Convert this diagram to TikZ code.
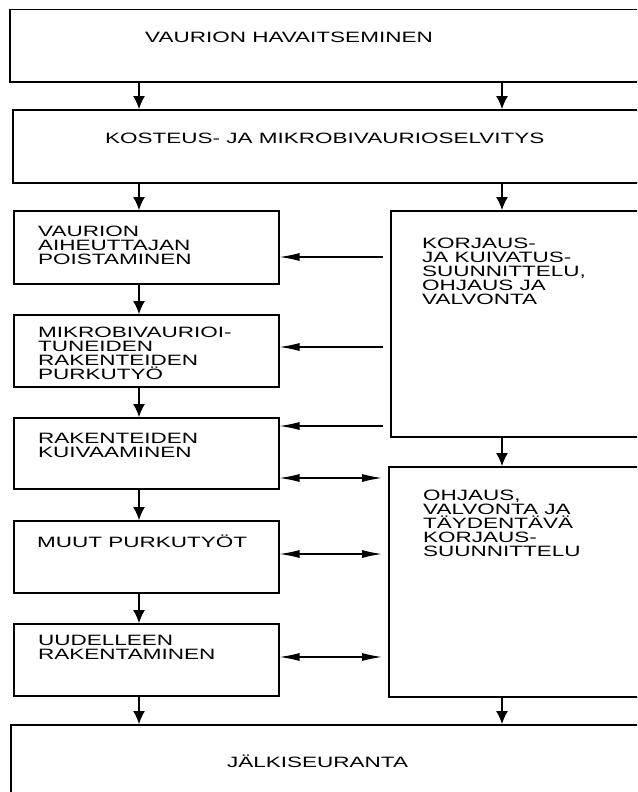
\documentclass[tikz,border=0pt]{standalone}
\usepackage{fontspec}
\setmainfont{Liberation Sans}[FakeStretch=1.5]
\usetikzlibrary{arrows.meta}

\begin{document}
\begin{tikzpicture}[x=1pt,y=-1pt,
    box/.style={draw, line width=1.5pt, inner sep=0pt, anchor=north west},
    txt/.style={anchor=base west, inner sep=0pt, align=left,
      font=\fontsize{15}{14}\selectfont},
    txtblock/.style={txt, anchor=north west},
    down/.style={line width=1.2pt, -{Latex[length=13pt,width=12pt]}},
    back/.style={line width=1.2pt, -{Latex[length=20pt,width=8pt]}, shorten <=7pt},
    both/.style={line width=1.2pt, {Latex[length=20pt,width=8pt]}-{Latex[length=20pt,width=8pt]}, shorten >=6pt}]
      \useasboundingbox (0,0) rectangle (637,792);
      \clip (0,0) rectangle (637,792);

      % Columns of the downward arrows
      \coordinate (colL) at (139,0);
      \coordinate (colR) at (502,0);

      % Wide boxes, cut off on the right
      \node[box, minimum width=651pt, minimum height=72pt] (havait) at (9,9) {};
      \node[box, minimum width=648pt, minimum height=73pt] (selvitys) at (12,109) {};
      \node[box, minimum width=650pt, minimum height=100pt] (seuranta) at (10,724) {};

      % Left column
      \node[box, minimum width=265pt, minimum height=73pt] (poisto) at (13,210) {};
      \node[box, minimum width=265pt, minimum height=72pt] (purku) at (13,314) {};
      \node[box, minimum width=265pt, minimum height=71pt] (kuivaus) at (13,417) {};
      \node[box, minimum width=265pt, minimum height=72pt] (muut) at (13,520) {};
      \node[box, minimum width=265pt, minimum height=72pt] (uudelleen) at (13,623) {};

      % Right column
      \node[box, minimum width=270pt, minimum height=226pt] (suunn) at (390,210) {};
      \node[box, minimum width=272pt, minimum height=230pt] (ohjaus) at (388,466) {};

      % Texts
      \node[txt] (t-havait) at (145,43) {VAURION HAVAITSEMINEN};
      \node[txt] (t-selvitys) at (105,143.5) {KOSTEUS- JA MIKROBIVAURIOSELVITYS};
      \node[txtblock] (t-poisto) at (38,225.8) {VAURION\\AIHEUTTAJAN\\POISTAMINEN};
      \node[txtblock] (t-purku) at (38,326.8) {MIKROBIVAURIOI-\\TUNEIDEN\\RAKENTEIDEN\\PURKUTYÖ};
      \node[txtblock] (t-kuivaus) at (38,432.8) {RAKENTEIDEN\\KUIVAAMINEN};
      \node[txt] (t-muut) at (37,547) {MUUT PURKUTYÖT};
      \node[txtblock] (t-uudelleen) at (38,634.8) {UUDELLEEN\\RAKENTAMINEN};
      \node[txtblock] (t-suunn) at (422,237.8) {KORJAUS-\\JA KUIVATUS-\\SUUNNITTELU,\\OHJAUS JA\\VALVONTA};
      \node[txtblock] (t-ohjaus) at (423,489.8) {OHJAUS,\\VALVONTA JA\\TÄYDENTÄVÄ\\KORJAUS-\\SUUNNITTELU};
      \node[txt] (t-seuranta) at (227,767) {JÄLKISEURANTA};

      % Downward arrows
      \draw[down] (havait.south -| colL) -- (selvitys.north -| colL);
      \draw[down] (havait.south -| colR) -- (selvitys.north -| colR);
      \draw[down] (selvitys.south -| colL) -- (poisto.north -| colL);
      \draw[down] (selvitys.south -| colR) -- (suunn.north -| colR);
      \draw[down] (poisto.south -| colL) -- (purku.north -| colL);
      \draw[down] (purku.south -| colL) -- (kuivaus.north -| colL);
      \draw[down] (kuivaus.south -| colL) -- (muut.north -| colL);
      \draw[down] (muut.south -| colL) -- (uudelleen.north -| colL);
      \draw[down] (uudelleen.south -| colL) -- (seuranta.north -| colL);
      \draw[down] (suunn.south -| colR) -- (ohjaus.north -| colR);
      \draw[down] (ohjaus.south -| colR) -- (seuranta.north -| colR);

      % Arrows from the planning box
      \coordinate (h1) at (0,257);
      \coordinate (h2) at (0,347);
      \coordinate (h3) at (0,426);
      \draw[back] (suunn.west |- h1) -- (poisto.east |- h1);
      \draw[back] (suunn.west |- h2) -- (purku.east |- h2);
      \draw[back] (suunn.west |- h3) -- (kuivaus.east |- h3);

      % Two-way arrows to the supervision box
      \coordinate (d1) at (0,478);
      \coordinate (d2) at (0,554);
      \coordinate (d3) at (0,657);
      \draw[both] (kuivaus.east |- d1) -- (ohjaus.west |- d1);
      \draw[both] (muut.east |- d2) -- (ohjaus.west |- d2);
      \draw[both] (uudelleen.east |- d3) -- (ohjaus.west |- d3);
\end{tikzpicture}
\end{document}
